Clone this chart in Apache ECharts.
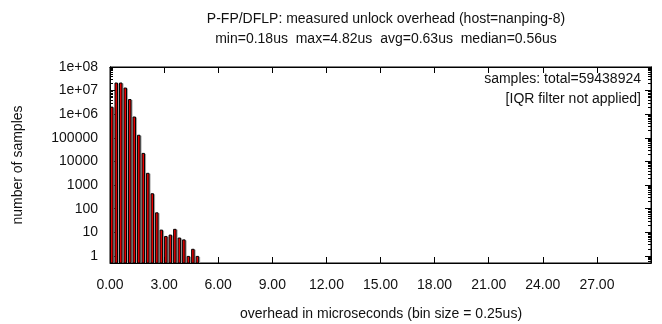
<!DOCTYPE html>
<html>
<head>
<meta charset="utf-8">
<script src="https://cdn.jsdelivr.net/npm/echarts@6/dist/echarts.min.js"></script>
<style>
  html, body { margin: 0; padding: 0; background: #fff; }
  #chart { width: 662px; height: 324px; }
</style>
</head>
<body>
<div id="chart"></div>
<script>
// Histogram of unlock overhead, 0.25us bins (bin start in us, sample count)
const binSize = 0.25;
const binStarts = [0.00, 0.25, 0.50, 0.75, 1.00, 1.25, 1.50, 1.75, 2.00, 2.25,
                   2.50, 2.75, 3.00, 3.25, 3.50, 3.75, 4.00, 4.25, 4.50, 4.75];
const counts = [2100000, 22000000, 22000000, 13500000, 4400000, 800000, 135000, 23000, 3300, 450,
                70, 13, 7, 8, 14, 6, 5, 1, 2, 1];

// Axis ranges and tick labels
const xMin = 0, xMax = 30, xStep = 3;
const yMin = 0.5, yMax = 1e8;
const yTickValues = [1, 10, 100, 1000, 10000, 100000, 1e6, 1e7, 1e8];
const yTickLabels = ['1', '10', '100', '1000', '10000', '100000', '1e+06', '1e+07', '1e+08'];

const titleLines = [
  'P-FP/DFLP: measured unlock overhead (host=nanping-8)',
  'min=0.18us  max=4.82us  avg=0.63us  median=0.56us'
];
const keyLines = ['samples: total=59438924', '[IQR filter not applied]'];
const xName = 'overhead in microseconds (bin size = 0.25us)';
const yName = 'number of samples';

const FONT = '"Liberation Sans", Arial, Helvetica, sans-serif';
const TXT = '#111';

// minor log ticks: 2..9 within each decade (plus 0.6..0.9 below 1)
const yMinorValues = [];
for (let d = -1; d < 8; d++) {
  for (let m = 2; m <= 9; m++) {
    const v = m * Math.pow(10, d);
    if (v > yMin && v < yMax) yMinorValues.push(v);
  }
}

const chart = echarts.init(document.getElementById('chart'), null, { renderer: 'canvas' });

function yLabel(v) {
  for (let i = 0; i < yTickValues.length; i++) {
    if (Math.abs(Math.log10(v) - Math.log10(yTickValues[i])) < 1e-6) return yTickLabels[i];
  }
  return '';
}

const baseX = {
  type: 'value', min: xMin, max: xMax, interval: xStep,
  axisLine: { show: true, onZero: false, lineStyle: { color: '#000', width: 1 } },
  axisTick: { show: true, inside: true, length: 6, lineStyle: { color: '#000' } },
  splitLine: { show: false }
};

function yAxisDef(position, major, withLabels) {
  return {
    type: 'log', logBase: 10, min: yMin, max: yMax, position: position,
    axisLine: { show: true, onZero: false, lineStyle: { color: '#000', width: 1 } },
    axisTick: {
      show: true, inside: true, length: major ? 6 : 3,
      customValues: major ? yTickValues : yMinorValues,
      lineStyle: { color: '#000' }
    },
    splitLine: { show: false },
    axisLabel: withLabels
      ? { show: true, customValues: yTickValues, color: TXT, fontSize: 14, fontFamily: FONT, margin: 12, formatter: yLabel }
      : { show: false }
  };
}

chart.setOption({
  animation: false,
  backgroundColor: '#fff',
  textStyle: { fontFamily: FONT },
  title: {
    text: titleLines.join('\n'),
    left: 381, top: 4, textAlign: 'center',
    textStyle: { fontFamily: FONT, fontSize: 14, fontWeight: 'normal', color: TXT, lineHeight: 20 }
  },
  grid: { left: 110, right: 11, top: 67, bottom: 61, show: true, borderColor: '#000', borderWidth: 1 },
  xAxis: [
    Object.assign({}, baseX, {
      position: 'bottom',
      axisLabel: {
        color: TXT, fontSize: 14, fontFamily: FONT, margin: 15,
        showMaxLabel: false,
        formatter: v => v.toFixed(2)
      }
    }),
    Object.assign({}, baseX, { position: 'top', axisLabel: { show: false } })
  ],
  yAxis: [
    yAxisDef('left', true, true),
    yAxisDef('right', true, false),
    yAxisDef('left', false, false),
    yAxisDef('right', false, false)
  ],
  series: [{
    type: 'custom',
    xAxisIndex: 0, yAxisIndex: 0,
    clip: true,
    data: binStarts.map((s, i) => [s, counts[i]]),
    renderItem: function (params, api) {
      const x0 = api.value(0), v = api.value(1);
      const top = api.coord([x0, v]);
      const bot = api.coord([x0 + binSize, yMin]);
      const w = bot[0] - top[0];
      const redW = w * 0.66;
      const h = bot[1] - top[1];
      return {
        type: 'group',
        children: [
          { type: 'rect', shape: { x: top[0] + redW, y: top[1] + 1, width: w - redW, height: h - 1 },
            style: { fill: '#a6a6a6' } },
          { type: 'rect', shape: { x: top[0] + 0.5, y: top[1] + 0.5, width: redW - 0.5, height: h - 0.5 },
            style: { fill: '#e60000', stroke: '#000', lineWidth: 1 } }
        ]
      };
    }
  }],
  graphic: [
    { type: 'text', x: 641, y: 69,
      style: { text: keyLines.join('\n'), font: '14px ' + FONT, fill: TXT, align: 'right', verticalAlign: 'top', lineHeight: 20 } },
    { type: 'text', x: 381, y: 314,
      style: { text: xName, font: '14px ' + FONT, fill: TXT, align: 'center', verticalAlign: 'middle' } },
    { type: 'text', x: 18, y: 165, rotation: Math.PI / 2,
      style: { text: yName, font: '14px ' + FONT, fill: TXT, align: 'center', verticalAlign: 'middle' } }
  ]
});
</script>
</body>
</html>
